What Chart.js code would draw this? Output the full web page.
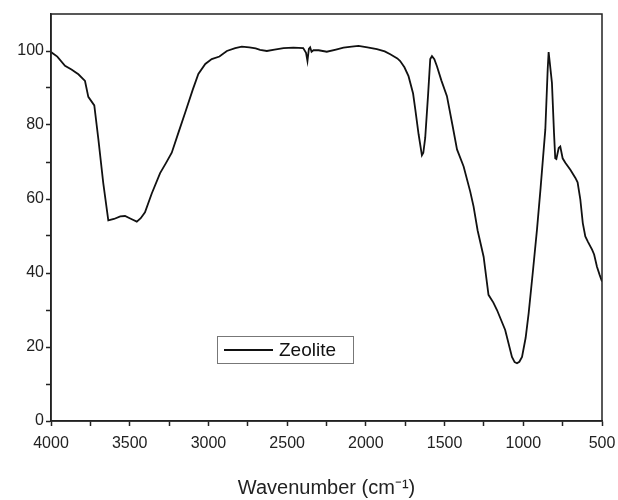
<!DOCTYPE html>
<html lang="en">
<head>
    <meta charset="UTF-8">
    <title>Zeolite FTIR</title>
    <script src="https://cdn.jsdelivr.net/npm/chart.js"></script>
    <style>
        body { margin: 0; background: #fff; }
        #grafico { display: block; }
    </style>
</head>
<body>
    <canvas id="grafico" width="618" height="500"></canvas>

    <script>
        const wavenumbers = [4000, 3960, 3911, 3870, 3826, 3784, 3763, 3725, 3699, 3668, 3636, 3600, 3560, 3530, 3490, 3455, 3430, 3403, 3360, 3307, 3270, 3233, 3190, 3148, 3100, 3064, 3020, 2979, 2930, 2883, 2830, 2788, 2740, 2700, 2672, 2629, 2580, 2523, 2460, 2398, 2380, 2371, 2362, 2354, 2345, 2333, 2300, 2248, 2190, 2142, 2090, 2047, 1990, 1930, 1880, 1845, 1800, 1782, 1755, 1729, 1700, 1686, 1665, 1644, 1635, 1623, 1605, 1591, 1580, 1565, 1548, 1520, 1485, 1450, 1421, 1379, 1337, 1316, 1290, 1252, 1221, 1190, 1167, 1115, 1072, 1055, 1040, 1025, 1008, 985, 966, 940, 913, 890, 860, 845, 839, 832, 818, 805, 797, 790, 775, 765, 750, 733, 701, 669, 655, 638, 622, 606, 590, 574, 563, 550, 532, 515, 500];
        const transmittance = [99.7, 98.5, 96.0, 95.0, 93.7, 91.9, 87.6, 85.3, 76.1, 64.3, 54.2, 54.6, 55.3, 55.4, 54.6, 53.9, 54.8, 56.4, 61.5, 67.0, 69.7, 72.5, 78.0, 83.3, 89.5, 93.8, 96.5, 97.8, 98.5, 100.0, 100.8, 101.2, 101.0, 100.7, 100.3, 100.0, 100.4, 100.8, 100.9, 100.8, 99.5, 97.3, 100.6, 101.0, 99.8, 100.2, 100.2, 99.8, 100.4, 100.9, 101.2, 101.4, 101.0, 100.5, 99.9, 99.1, 98.0, 97.3, 95.6, 93.2, 88.5, 84.2, 77.5, 71.8, 72.5, 76.5, 88.0, 97.8, 98.6, 97.8, 95.8, 92.0, 87.8, 80.0, 73.4, 68.8, 62.0, 58.0, 51.5, 44.4, 34.1, 32.0, 30.0, 24.6, 17.3, 15.9, 15.6, 16.0, 17.3, 22.5, 29.1, 40.0, 51.7, 63.0, 78.8, 95.0, 99.7, 97.0, 91.4, 78.0, 71.0, 70.8, 73.8, 74.2, 71.0, 69.8, 67.9, 65.7, 64.5, 60.0, 53.5, 49.9, 48.5, 47.2, 46.3, 45.0, 41.7, 39.5, 37.7];
        const nomeSerie = 'Zeolite';
        const titoloX = 'Wavenumber (cm⁻¹)';

        const coloreLinea = '#111111';
        const coloreAssi = '#222222';
        const fontFamily = '"Liberation Sans", Arial, sans-serif';

        // riquadro attorno all'area del grafico
        const cornice = {
            id: 'cornice',
            afterDraw(chart) {
                const a = chart.chartArea;
                const ctx = chart.ctx;
                ctx.save();
                ctx.strokeStyle = coloreAssi;
                ctx.lineWidth = 1.5;
                ctx.strokeRect(a.left, a.top, a.right - a.left, a.bottom - a.top);
                ctx.restore();
            }
        };

        // legenda dentro il grafico, con riquadro
        const legendaInterna = {
            id: 'legendaInterna',
            afterDraw(chart) {
                const ctx = chart.ctx;
                const ds = chart.data.datasets[0];
                const x = 217, y = 336, w = 136, h = 27;
                ctx.save();
                ctx.fillStyle = '#fff';
                ctx.fillRect(x, y, w, h);
                ctx.strokeStyle = '#777';
                ctx.lineWidth = 1;
                ctx.strokeRect(x + 0.5, y + 0.5, w, h);
                ctx.strokeStyle = ds.borderColor;
                ctx.lineWidth = 2;
                ctx.beginPath();
                ctx.moveTo(x + 7, y + h / 2 + 0.5);
                ctx.lineTo(x + 56, y + h / 2 + 0.5);
                ctx.stroke();
                ctx.fillStyle = '#111';
                ctx.font = '19px ' + fontFamily;
                ctx.textBaseline = 'middle';
                ctx.fillText(ds.label, x + 62, y + h / 2 + 1);
                ctx.restore();
            }
        };

        const canvas = document.getElementById('grafico').getContext('2d');

        const grafico = new Chart(canvas, {
            type: 'line',
            data: {
                datasets: [{
                    label: nomeSerie,
                    data: wavenumbers.map((w, i) => ({ x: w, y: transmittance[i] })),
                    borderColor: coloreLinea,
                    borderWidth: 1.8,
                    pointRadius: 0,
                    tension: 0,
                    fill: false
                }]
            },
            options: {
                responsive: false,
                animation: false,
                layout: { padding: { top: 14, right: 16, left: 0, bottom: 0 } },
                plugins: {
                    legend: { display: false },
                    tooltip: { enabled: false }
                },
                scales: {
                    x: {
                        type: 'linear',
                        reverse: true,
                        min: 500,
                        max: 4000,
                        afterFit: (s) => {
                            s.height = 79;
                            s.paddingLeft = 0;
                            s.paddingRight = 0;
                        },
                        border: { color: coloreAssi, width: 1.5 },
                        grid: {
                            drawOnChartArea: false,
                            tickLength: 5,
                            tickColor: coloreAssi,
                            tickWidth: 1.5
                        },
                        ticks: {
                            stepSize: 250,
                            autoSkip: false,
                            maxRotation: 0,
                            padding: 8,
                            color: '#222',
                            font: { family: fontFamily, size: 16 },
                            callback: (v) => (v % 500 === 0 ? v : '')
                        },
                        title: {
                            display: true,
                            text: titoloX,
                            color: '#222',
                            padding: { top: 4, bottom: 0 },
                            font: { family: fontFamily, size: 20 }
                        }
                    },
                    y: {
                        min: 0,
                        max: 110,
                        afterFit: (s) => { s.width = 51; },
                        border: { color: coloreAssi, width: 1.5 },
                        grid: {
                            drawOnChartArea: false,
                            tickLength: 5,
                            tickWidth: 1.5,
                            tickColor: (c) => (c.tick && c.tick.value > 100 ? 'rgba(0,0,0,0)' : coloreAssi)
                        },
                        ticks: {
                            stepSize: 10,
                            padding: 2,
                            color: '#222',
                            font: { family: fontFamily, size: 16 },
                            callback: (v) => (v % 20 === 0 && v <= 100 ? v : '')
                        }
                    }
                }
            },
            plugins: [cornice, legendaInterna]
        });
    </script>
</body>
</html>
